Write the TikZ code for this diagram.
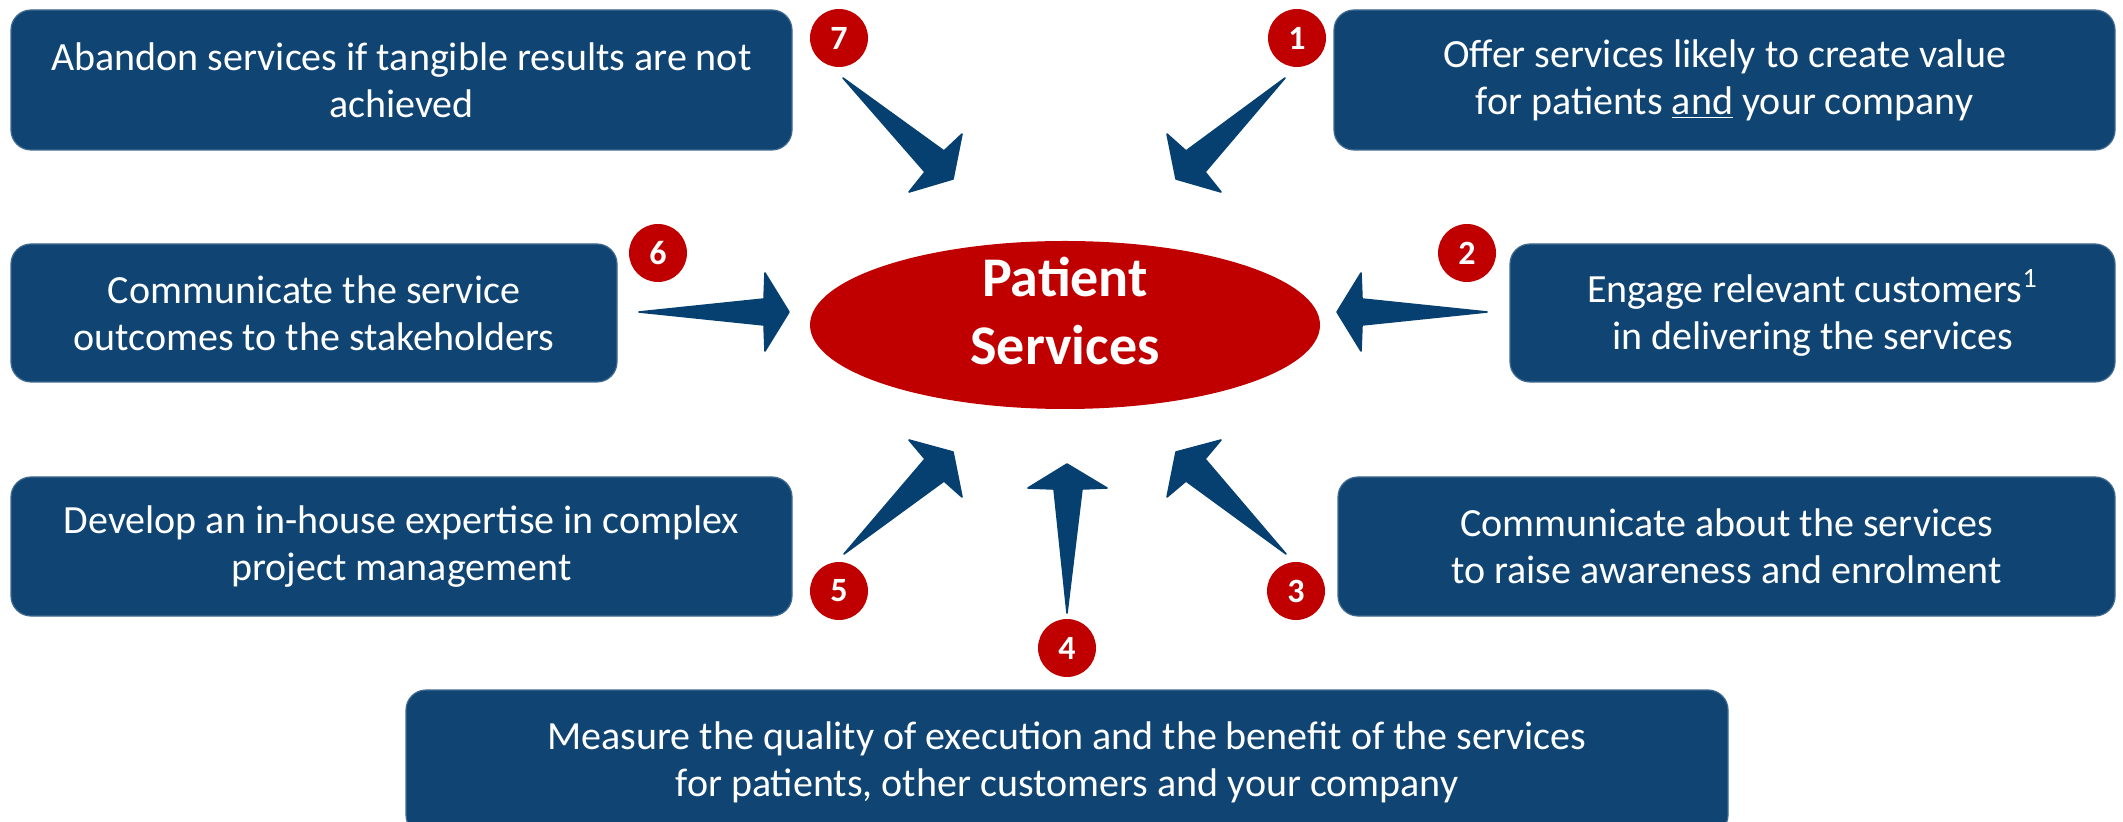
\documentclass[tikz,border=0pt]{standalone}
\usepackage{fontspec}
\setmainfont{Carlito}
\usetikzlibrary{shapes.geometric}
\definecolor{boxblue}{HTML}{104573}
\definecolor{arrowblue}{HTML}{064070}
\definecolor{pred}{HTML}{C00000}
\begin{document}
\begin{tikzpicture}[x=0.5pt,y=-0.5pt,
  box/.style={fill=boxblue, draw=boxblue!80!white, line width=0.6pt, rounded corners=10pt,
    text=white, align=center, font=\fontsize{20}{23.5}\selectfont, inner sep=0pt},
  num/.style={circle, fill=pred, text=white, font=\bfseries\fontsize{17}{17}\selectfont,
    minimum size=29pt, inner sep=0pt},
  pstext/.style={text=white, align=center, font=\bfseries\fontsize{28}{34}\selectfont, inner sep=0pt},
  arr/.style={fill=arrowblue, draw=arrowblue, line width=0.8pt, line join=round}]
\useasboundingbox (0,0) rectangle (2123,822);
\clip (0,0) rectangle (2123,822);

% boxes
\node[box, minimum width=390.5pt, minimum height=70pt] (b7) at (401.5,80)
  {Abandon services if tangible results are not\\achieved};
\node[box, minimum width=390.5pt, minimum height=70pt] (b1) at (1724.5,80)
  {Offer services likely to create value\\for patients \underline{and} your company};
\node[box, minimum width=303pt, minimum height=69pt] (b6) at (314,313)
  {Communicate the service\\outcomes to the stakeholders};
\node[box, minimum width=302.5pt, minimum height=69pt] (b2) at (1812.5,313)
  {Engage relevant customers\textsuperscript{1}\\in delivering the services};
\node[box, minimum width=390.5pt, minimum height=69.5pt] (b5) at (401.5,546.5)
  {Develop an in-house expertise in complex\\project management};
\node[box, minimum width=388.5pt, minimum height=69.5pt] (b3) at (1726.5,546.5)
  {Communicate about the services\\to raise awareness and enrolment};
\node[box, minimum width=661pt, minimum height=72.5pt] (b4) at (1067,762.5)
  {Measure the quality of execution and the benefit of the services\\for patients, other customers and your company};

% centre
\node[ellipse, fill=pred, minimum width=255pt, minimum height=84pt, inner sep=0pt] (ps) at (1065,325) {};
\node[pstext] (pslabel) at (1065,311) {Patient\\Services};

% arrows
\path[arr] (843,78) -- (944,151) -- (962,134) -- (953,179) -- (909,192) -- (925,172) -- cycle;
\path[arr] (1285,78) -- (1186,151) -- (1167,134) -- (1176,179) -- (1221,192) -- (1205,172) -- cycle;
\path[arr] (1487,312) -- (1362,299) -- (1361,273) -- (1337,312) -- (1361,351) -- (1362,325) -- cycle;
\path[arr] (639,312) -- (764,299) -- (765,273) -- (789,312) -- (765,351) -- (764,325) -- cycle;
\path[arr] (844,554) -- (944,481) -- (962,497) -- (953,452) -- (909,440) -- (925,459) -- cycle;
\path[arr] (1286,554) -- (1186,481) -- (1167,497) -- (1176,452) -- (1221,440) -- (1205,459) -- cycle;
\path[arr] (1067,613) -- (1082,489) -- (1107,488) -- (1067,464) -- (1028,488) -- (1054,489) -- cycle;

% numbers
\node[num] (n7) at (839,38) {7};
\node[num] (n1) at (1297,38) {1};
\node[num] (n6) at (658,253) {6};
\node[num] (n2) at (1467,253) {2};
\node[num] (n5) at (839,591) {5};
\node[num] (n3) at (1296,591) {3};
\node[num] (n4) at (1067,648) {4};
\end{tikzpicture}
\end{document}
